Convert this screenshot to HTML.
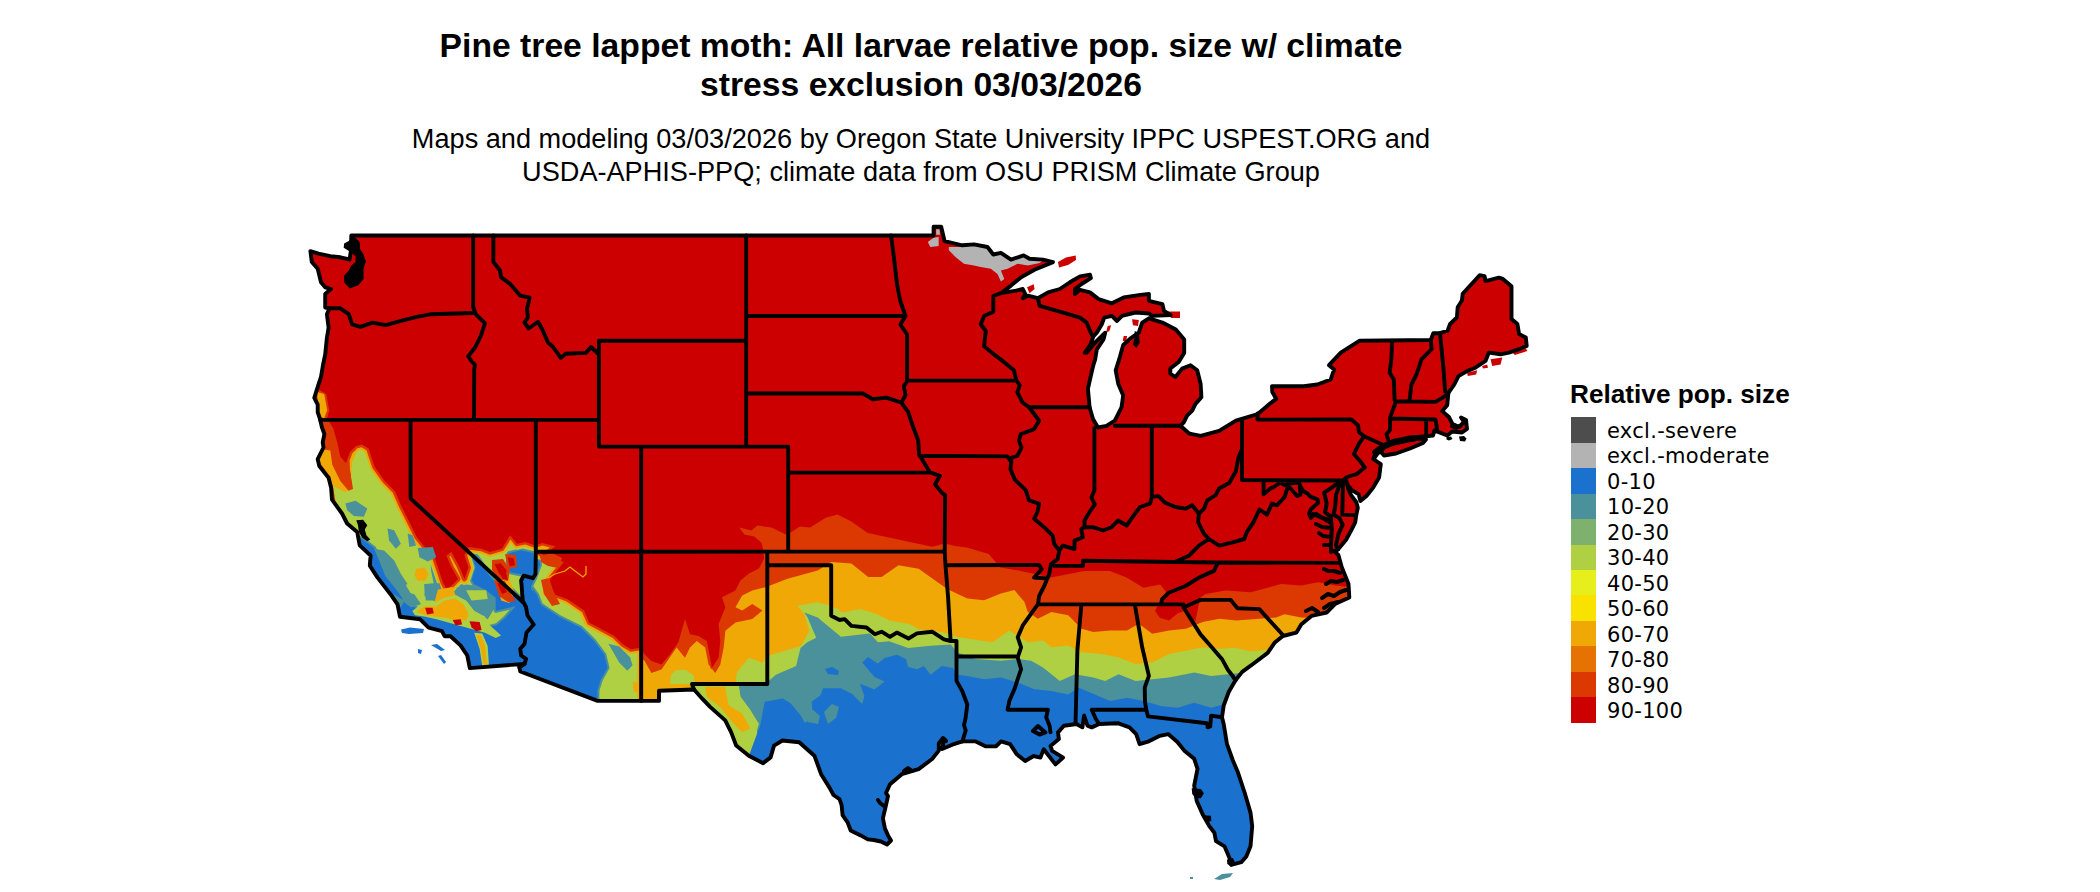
<!DOCTYPE html>
<html><head><meta charset="utf-8"><title>Pine tree lappet moth</title>
<style>
html,body{margin:0;padding:0;background:#fff;}
body{width:2100px;height:892px;position:relative;overflow:hidden;font-family:"Liberation Sans",sans-serif;color:#000;}
.t{position:absolute;white-space:nowrap;}
#title{left:0;width:1842px;text-align:center;top:26px;font-size:33.7px;font-weight:bold;line-height:38.8px;}
#sub{left:0;width:1842px;text-align:center;top:123px;font-size:27.15px;line-height:32.5px;}
#lt{left:1570px;top:380px;font-size:26.2px;font-weight:bold;line-height:28px;}
.sw{position:absolute;left:1571px;width:25px;height:25.6px;}
.ll{position:absolute;left:1607px;font-family:"DejaVu Sans",sans-serif;font-size:21px;line-height:25.5px;letter-spacing:0.3px;white-space:nowrap;}
svg{position:absolute;left:0;top:0;}
</style></head><body>
<div id="title" class="t">Pine tree lappet moth: All larvae relative pop. size w/ climate<br>stress exclusion 03/03/2026</div>
<div id="sub" class="t">Maps and modeling 03/03/2026 by Oregon State University IPPC USPEST.ORG and<br>USDA-APHIS-PPQ; climate data from OSU PRISM Climate Group</div>
<svg width="2100" height="892" viewBox="0 0 2100 892">
<defs><clipPath id="us"><path d="M351.3 235.5 L933.6 235.5 L933.6 226.8 L941.2 226.8 L944.6 241.1 L962.2 245.3 L974.0 244.4 L987.5 247.0 L993.3 254.5 L1000.9 252.8 L1011.0 259.6 L1023.6 255.4 L1029.5 258.7 L1043.0 259.6 L1053.0 262.1 L1034.5 269.7 L1021.1 277.2 L1011.0 285.6 L1000.9 293.2 L1016.0 290.7 L1022.8 289.0 L1025.3 294.0 L1022.8 298.2 L1027.8 295.7 L1037.9 298.2 L1048.0 292.4 L1059.8 289.0 L1069.9 282.3 L1080.0 276.4 L1090.0 274.7 L1090.9 278.1 L1081.6 284.0 L1074.9 289.0 L1074.9 294.0 L1080.0 289.8 L1090.0 292.4 L1098.5 299.1 L1111.9 303.3 L1123.7 297.4 L1140.5 294.9 L1148.9 294.0 L1148.9 300.8 L1162.4 304.1 L1164.0 310.9 L1170.8 315.1 L1152.3 315.9 L1148.9 313.5 L1135.5 312.5 L1122.0 315.9 L1117.0 321.0 L1111.9 315.9 L1104.3 317.6 L1101.8 324.3 L1096.8 332.7 L1093.6 336.1 L1090.4 344.5 L1084.8 352.9 L1087.0 352.5 L1093.2 344.5 L1105.2 332.7 L1103.5 339.5 L1096.8 349.5 L1095.1 359.6 L1093.4 365.0 L1092.1 370.3 L1087.9 388.8 L1089.6 407.3 L1093.0 419.0 L1098.0 427.5 L1106.4 425.8 L1114.8 420.7 L1121.5 407.3 L1123.2 395.5 L1118.2 383.7 L1115.7 370.3 L1119.9 356.8 L1123.2 345.0 L1131.0 338.0 L1138.8 332.7 L1142.2 322.6 L1148.9 318.3 L1162.4 322.6 L1175.8 329.4 L1184.2 339.5 L1184.2 352.9 L1178.7 361.9 L1170.3 368.6 L1170.3 373.6 L1175.4 377.0 L1182.1 368.6 L1190.5 365.2 L1197.2 370.3 L1200.6 383.7 L1201.4 397.2 L1195.5 403.9 L1192.2 410.6 L1187.1 415.7 L1183.8 422.4 L1180.4 425.8 L1188.8 433.3 L1192.2 434.2 L1200.6 435.9 L1219.1 430.8 L1235.9 420.7 L1257.8 414.0 L1269.5 403.9 L1276.3 398.9 L1272.3 392.0 L1272.0 386.2 L1303.8 386.2 L1317.3 384.5 L1330.7 379.5 L1334.1 369.4 L1329.0 365.2 L1340.8 352.6 L1359.3 340.8 L1430.8 340.0 L1433.3 333.2 L1440.0 333.2 L1447.6 330.7 L1450.1 324.0 L1456.9 317.3 L1457.7 307.2 L1461.9 300.5 L1462.7 293.7 L1479.6 275.2 L1484.6 276.1 L1485.5 281.1 L1498.9 277.7 L1502.3 278.6 L1511.5 286.2 L1511.5 319.0 L1517.4 324.0 L1519.1 334.1 L1525.8 337.5 L1526.7 345.9 L1519.1 349.2 L1509.0 352.6 L1500.6 354.3 L1488.8 352.6 L1485.5 361.0 L1475.4 367.7 L1467.0 371.1 L1458.5 376.1 L1454.3 384.5 L1448.4 392.9 L1447.2 405.2 L1442.2 411.1 L1448.9 417.0 L1452.3 423.7 L1459.0 427.0 L1464.0 422.0 L1461.0 417.5 L1466.0 420.0 L1467.0 429.0 L1462.0 432.5 L1452.3 431.5 L1447.2 435.5 L1438.8 432.1 L1434.6 430.5 L1432.9 435.5 L1426.2 436.3 L1410.0 437.5 L1393.0 441.0 L1383.5 445.0 L1376.0 452.0 L1373.2 459.0 L1380.8 464.1 L1379.1 477.6 L1373.2 487.6 L1366.5 496.0 L1360.4 501.0 L1358.7 494.4 L1352.0 490.2 L1347.7 485.1 L1346.4 481.0 L1346.8 483.0 L1348.2 488.5 L1351.1 495.2 L1356.2 502.0 L1357.8 507.8 L1356.2 515.4 L1355.3 522.1 L1351.1 530.6 L1346.1 539.8 L1338.0 549.5 L1334.0 551.0 L1338.4 555.0 L1341.7 567.1 L1348.5 583.9 L1349.3 597.4 L1335.0 604.1 L1326.6 612.5 L1311.5 615.9 L1301.4 624.3 L1296.3 632.7 L1282.9 636.0 L1274.5 642.8 L1267.7 652.9 L1254.3 663.0 L1242.2 671.9 L1235.5 680.3 L1228.7 692.0 L1223.7 705.5 L1222.0 717.3 L1223.7 724.0 L1227.0 744.2 L1232.9 760.5 L1237.9 772.3 L1244.6 792.5 L1250.5 812.6 L1252.2 826.1 L1250.5 846.3 L1246.3 856.4 L1241.3 862.2 L1231.2 864.8 L1229.5 858.0 L1224.5 846.3 L1216.0 841.2 L1214.4 832.8 L1209.3 826.1 L1202.6 814.3 L1196.7 800.9 L1194.2 785.7 L1197.5 768.9 L1194.2 758.8 L1184.1 750.4 L1177.4 742.0 L1168.2 734.1 L1159.8 735.8 L1148.0 741.7 L1139.6 744.2 L1136.2 734.1 L1129.5 727.4 L1117.7 723.2 L1099.2 724.0 L1091.7 727.4 L1087.5 725.7 L1084.1 715.6 L1082.4 727.4 L1076.5 724.0 L1063.9 725.7 L1058.0 732.4 L1058.9 739.1 L1050.5 745.9 L1052.1 750.9 L1063.1 757.6 L1055.5 764.4 L1043.7 749.2 L1040.4 757.6 L1033.6 756.0 L1025.2 761.0 L1016.8 754.3 L1010.1 744.2 L1001.0 741.4 L996.0 746.4 L985.9 746.4 L975.8 741.4 L962.4 741.4 L952.3 744.7 L942.2 749.0 L943.9 741.4 L938.8 743.1 L938.8 750.6 L932.1 759.0 L918.6 769.1 L910.2 771.7 L901.8 774.2 L890.0 784.3 L886.0 793.0 L888.0 796.1 L886.0 805.1 L882.9 818.3 L884.9 828.3 L888.0 835.4 L891.0 840.5 L887.0 844.5 L880.9 841.5 L873.8 840.0 L867.8 839.4 L860.7 835.4 L850.6 830.4 L847.6 822.3 L842.6 815.2 L841.6 805.1 L839.5 799.1 L833.5 795.0 L829.5 787.6 L821.1 774.2 L814.4 755.7 L799.2 742.2 L782.4 740.5 L774.0 745.6 L770.6 757.4 L763.1 763.2 L748.8 755.7 L736.2 745.6 L731.1 732.1 L725.2 720.4 L710.1 706.9 L702.7 699.2 L694.0 689.5 L659.0 690.8 L659.0 700.9 L597.6 700.9 L520.3 671.5 L519.4 667.3 L524.5 663.9 L469.8 668.1 L467.3 655.5 L460.5 645.4 L450.5 636.2 L444.6 636.2 L442.0 631.1 L428.6 627.7 L420.2 619.3 L400.0 616.8 L397.5 604.3 L391.7 595.9 L377.4 577.4 L369.8 565.6 L370.6 555.5 L359.7 545.4 L357.2 532.0 L347.1 523.5 L342.0 513.5 L332.0 499.6 L331.1 487.8 L328.6 477.7 L319.3 466.0 L317.7 459.2 L323.5 447.5 L322.7 442.4 L324.4 434.0 L321.9 427.3 L320.2 419.7 L317.7 412.1 L317.7 404.6 L314.3 397.8 L317.7 386.9 L321.0 376.8 L323.0 365.0 L325.2 354.5 L326.9 337.7 L328.6 327.6 L326.9 314.2 L329.4 308.3 L325.2 307.5 L325.2 294.0 L331.0 289.0 L325.2 287.3 L321.0 282.2 L317.7 268.8 L311.8 262.0 L310.4 251.1 L318.5 253.6 L330.3 256.2 L340.4 257.3 L349.6 259.5 L351.0 250.0ZM1384.0 447.5 L1394.0 443.5 L1408.0 440.5 L1420.0 438.5 L1426.0 439.5 L1423.0 443.0 L1410.0 448.5 L1396.0 453.5 L1384.0 455.5 L1381.0 452.0Z"/></clipPath></defs>
<g clip-path="url(#us)">
<rect x="290" y="200" width="1260" height="692" fill="#CC0000"/>
<path d="M290.0 390.0 L290.0 900.0 L1420.0 900.0 L1420.0 587.0 L1352.0 587.3 L1335.0 585.6 L1318.2 582.2 L1301.4 585.6 L1281.2 583.9 L1250.9 592.3 L1225.7 590.6 L1205.5 594.0 L1200.0 598.0 L1195.5 621.0 L1191.5 617.5 L1185.9 610.3 L1177.5 613.6 L1169.1 620.4 L1160.0 618.0 L1155.0 611.0 L1159.0 603.0 L1166.0 592.0 L1160.2 584.4 L1143.4 587.7 L1126.6 577.6 L1109.8 570.9 L1084.5 570.9 L1050.9 577.6 L1020.6 570.9 L1000.5 567.5 L988.7 554.1 L966.8 547.4 L955.0 546.0 L944.7 543.5 L932.1 546.8 L867.7 532.9 L850.9 521.2 L837.4 514.5 L825.7 517.8 L810.0 527.5 L799.8 526.5 L790.7 532.6 L785.7 534.6 L771.5 527.5 L757.4 525.5 L751.4 530.5 L739.3 527.5 L744.3 534.6 L754.4 536.6 L761.5 542.7 L763.5 551.0 L764.0 558.5 L759.0 568.6 L748.9 573.6 L740.5 580.4 L735.4 590.5 L722.0 597.2 L725.4 607.3 L718.6 624.1 L720.3 640.9 L718.6 657.7 L711.9 667.8 L706.9 640.9 L698.4 635.9 L690.0 634.2 L685.0 619.0 L678.3 642.6 L669.9 654.4 L661.5 664.5 L651.4 661.1 L644.6 654.4 L641.3 647.6 L631.2 649.3 L622.8 644.3 L614.4 635.9 L589.1 622.4 L584.1 610.6 L567.3 598.9 L547.1 592.1 L550.5 578.7 L563.9 561.9 L540.0 553.5 L548.0 552.0 L555.6 546.2 L542.2 542.9 L535.5 545.4 L525.4 542.0 L517.0 543.7 L510.2 535.3 L501.8 548.8 L490.0 552.1 L481.6 548.8 L468.2 547.1 L464.5 555.5 L468.5 567.3 L464.5 579.0 L459.0 566.0 L451.4 552.1 L446.3 555.5 L451.4 567.3 L458.1 579.0 L447.0 590.0 L443.0 582.4 L434.5 557.2 L425.1 547.4 L417.0 537.4 L400.9 505.1 L394.8 491.0 L384.7 480.9 L374.6 466.7 L368.6 448.6 L362.0 444.5 L356.0 446.0 L350.0 452.0 L346.0 463.0 L340.3 456.7 L337.3 442.5 L333.3 428.4 L327.2 418.3 L329.3 410.3 L326.2 394.1 L319.2 390.0Z" fill="#DC3902" fill-rule="evenodd"/>
<path d="M327.2 410.3 L324.2 394.1 L317.1 392.1 L319.2 416.3 L324.2 418.3ZM318.2 448.6 L318.2 460.7 L324.2 468.8 L332.3 484.9 L340.3 499.0 L345.9 500.0 L300.0 500.0 L300.0 392.5 L292.5 392.5 L292.5 717.5 L639.5 717.5 L639.5 650.4 L630.6 651.7 L621.5 646.4 L612.9 638.0 L587.5 624.3 L582.1 612.2 L566.2 601.2 L545.3 593.8 L544.6 591.7 L548.3 577.6 L559.8 563.0 L539.0 555.8 L537.8 554.7 L537.5 553.2 L538.8 551.3 L547.0 549.7 L549.9 547.4 L542.4 545.5 L535.2 547.9 L525.2 544.6 L516.5 546.2 L515.2 545.5 L510.5 539.6 L503.3 550.8 L490.7 554.5 L489.3 554.5 L481.0 551.2 L469.7 549.8 L467.2 555.6 L471.0 567.7 L466.8 580.0 L464.7 581.5 L463.3 581.2 L462.3 580.2 L456.7 567.1 L450.5 555.7 L449.4 556.4 L453.6 566.2 L460.3 577.8 L460.6 579.2 L459.9 580.8 L448.8 591.8 L447.5 592.5 L446.0 592.3 L444.9 591.4 L440.7 583.4 L432.3 558.5 L423.2 549.0 L414.9 538.8 L398.7 506.2 L392.7 492.4 L382.8 482.5 L372.4 467.9 L366.5 450.2 L361.6 447.2 L357.3 448.3 L352.2 453.4 L349.6 460.5 L350.0 470.0 L356.0 500.0 L351.3 500.0 L350.4 493.0 L340.3 480.9 L332.3 464.7 L330.3 450.6ZM1418.5 618.0 L1320.0 618.0 L1301.4 617.5 L1284.5 614.2 L1276.1 617.5 L1236.4 620.4 L1219.5 618.7 L1202.7 622.0 L1185.9 628.8 L1169.1 630.5 L1152.3 633.8 L1138.8 623.7 L1127.0 630.5 L1110.2 630.5 L1093.4 632.1 L1081.6 628.8 L1068.2 615.3 L1051.4 612.0 L1037.9 618.7 L1027.8 612.0 L1024.5 601.9 L1014.4 590.1 L1000.9 593.5 L984.1 600.2 L967.3 598.5 L947.2 588.9 L918.6 568.7 L898.5 565.3 L881.6 577.1 L868.2 577.1 L851.4 563.6 L831.2 562.0 L817.7 570.4 L787.5 578.8 L765.6 587.2 L752.3 590.5 L742.2 595.5 L735.5 607.3 L742.2 610.6 L752.3 603.9 L762.4 610.6 L752.3 619.0 L735.5 622.4 L725.4 630.8 L723.7 647.6 L720.3 664.5 L715.3 672.9 L712.3 669.2 L710.7 668.7 L710.1 666.5 L708.5 664.5 L705.2 647.6 L696.8 640.9 L690.0 647.6 L685.0 657.7 L676.6 647.6 L661.5 669.5 L651.4 672.9 L644.6 661.1 L641.3 657.7 L641.3 898.5 L1418.5 898.5Z" fill="#EFA806" fill-rule="evenodd"/>
<path d="M542.5 547.7 L538.9 549.0 L544.0 548.1ZM359.0 532.8 L355.0 531.0 L300.0 531.0 L297.8 531.7 L296.2 533.8 L296.0 715.4 L601.0 715.4 L601.0 701.0 L637.4 701.0 L637.4 652.9 L630.1 653.8 L620.4 648.3 L611.7 639.7 L586.1 625.9 L584.9 624.2 L580.4 613.6 L565.2 603.1 L545.6 596.5 L543.7 595.2 L542.6 593.2 L542.6 591.4 L546.2 577.1 L556.4 564.0 L537.0 557.0 L535.7 555.2 L535.4 553.0 L536.2 550.9 L537.9 549.4 L534.5 549.9 L525.1 546.8 L516.1 548.2 L513.7 546.9 L510.7 543.2 L504.2 552.7 L490.8 556.6 L488.7 556.5 L480.5 553.3 L471.0 552.1 L469.4 555.7 L473.1 567.5 L468.2 581.7 L467.0 582.9 L464.9 583.6 L463.1 583.4 L461.3 582.3 L449.1 594.1 L446.5 594.6 L444.1 593.5 L438.8 584.2 L430.5 559.6 L421.5 550.3 L413.1 539.9 L396.8 507.1 L390.9 493.6 L381.2 483.9 L370.9 469.4 L364.8 451.6 L361.2 449.4 L358.4 450.2 L356.1 452.4 L352.0 463.0 L351.0 476.0 L353.0 489.0 L345.0 492.0 L333.0 486.0 L336.0 505.0 L346.0 521.0ZM686.0 670.0 L676.0 670.0 L671.0 675.0 L670.0 684.0 L694.5 684.0 L694.0 676.0ZM1420.0 648.0 L1290.0 648.0 L1250.9 651.2 L1234.1 647.8 L1219.5 649.0 L1202.7 647.3 L1169.1 654.0 L1152.3 662.4 L1135.5 664.1 L1118.6 657.4 L1101.8 654.0 L1081.6 652.3 L1068.2 645.6 L1051.4 647.3 L1043.0 640.5 L1027.8 642.2 L1009.3 630.5 L992.5 642.2 L958.9 637.2 L947.9 633.8 L933.6 630.5 L918.6 629.2 L910.2 624.2 L890.0 620.8 L876.6 614.1 L859.8 609.0 L843.0 612.4 L831.2 605.7 L817.7 602.3 L797.5 605.7 L804.3 614.1 L809.3 630.9 L800.9 646.0 L767.3 656.1 L762.4 662.8 L748.9 657.7 L737.0 672.0 L735.0 685.0 L694.0 686.0 L694.0 900.0 L1420.0 900.0Z" fill="#B0D043" fill-rule="evenodd"/>
<path d="M424.4 584.2 L425.8 600.4 L433.8 600.4 L440.6 603.1 L444.6 597.7 L455.4 595.0 L466.1 600.4 L474.2 611.1 L487.7 619.2 L493.7 609.6 L493.9 612.1 L495.8 613.1 L509.6 609.7 L503.6 616.6 L496.0 623.2 L485.1 625.9 L460.6 617.1 L447.6 613.1 L434.4 610.1 L422.5 609.0 L413.4 604.5 L399.7 582.9 L390.6 570.8 L382.7 558.9 L375.6 546.8 L366.0 539.3 L355.2 533.0 L300.0 533.0 L298.6 533.6 L298.0 535.0 L298.0 714.0 L599.0 714.0 L599.5 690.4 L602.7 680.4 L609.6 668.1 L606.2 653.7 L595.6 639.5 L582.0 625.9 L560.0 615.1 L542.6 603.4 L538.8 593.7 L533.3 586.3 L536.9 578.7 L542.0 565.0 L541.5 560.3 L537.1 558.8 L534.7 556.3 L534.0 554.0 L534.4 551.3 L522.9 548.6 L517.6 549.7 L515.4 549.5 L508.2 551.3 L506.8 552.6 L505.7 563.5 L509.0 573.4 L510.1 574.3 L520.8 576.4 L519.0 579.8 L521.0 590.0 L520.1 594.9 L510.1 585.1 L496.8 581.2 L489.3 572.3 L481.2 558.8 L477.5 554.3 L471.9 553.6 L470.9 555.8 L474.5 567.6 L470.0 581.3 L472.5 585.3 L467.2 584.4 L463.8 585.0 L461.4 584.1 L450.3 595.0 L447.6 596.0 L444.1 595.3 L442.0 593.3 L437.5 584.8 L430.6 564.3 L431.0 570.0 L433.7 583.5ZM757.0 900.0 L1420.0 900.0 L1420.0 672.0 L1250.0 672.0 L1211.1 675.9 L1194.3 672.5 L1169.1 677.5 L1135.5 680.9 L1118.6 674.2 L1105.2 680.9 L1093.4 677.5 L1074.9 674.2 L1059.8 680.9 L1043.0 667.5 L1031.2 660.7 L1017.7 659.0 L1000.9 660.7 L975.7 659.0 L957.5 652.4 L950.8 644.6 L930.6 645.7 L908.2 647.9 L889.1 641.2 L877.9 642.3 L870.0 633.4 L840.9 636.7 L817.7 617.5 L804.3 612.4 L807.6 617.5 L816.2 637.8 L807.3 642.3 L800.5 647.9 L796.1 665.9 L775.9 674.8 L768.0 681.6 L767.0 686.0 L738.7 686.0 L740.4 696.8 L750.5 710.3 L757.0 724.0Z" fill="#4A919B" fill-rule="evenodd"/>
<path d="M533.6 576.3 L533.0 578.0 L524.0 575.0 L521.0 580.0 L523.0 590.0 L521.1 600.4 L520.0 597.7 L509.2 586.9 L495.7 582.9 L487.7 573.5 L479.6 560.0 L475.5 555.1 L472.5 554.7 L472.0 555.8 L475.5 567.6 L471.6 580.0 L474.2 584.2 L485.0 589.6 L495.7 597.7 L495.7 611.1 L515.9 606.1 L505.0 618.0 L497.0 625.0 L485.0 628.0 L460.0 619.0 L447.0 615.0 L434.0 612.0 L422.0 611.0 L412.0 606.0 L398.0 584.0 L389.0 572.0 L381.0 560.0 L374.0 548.0 L365.0 541.0 L355.0 535.0 L300.0 535.0 L300.0 713.0 L597.0 713.0 L597.5 690.0 L600.9 679.6 L607.6 667.8 L604.3 654.4 L594.2 640.9 L580.7 627.5 L559.0 616.8 L541.0 604.7 L537.0 594.6 L531.0 586.5 L535.0 578.0 L540.0 565.0 L539.6 560.7 L536.0 559.2 L536.0 560.0 L533.5 556.1 L533.0 553.0 L520.8 550.2 L508.7 553.2 L507.7 563.3 L510.7 572.4ZM533.0 590.0 L532.3 591.8 L531.0 586.5ZM536.0 570.0 L534.2 574.8 L536.0 560.0ZM521.6 601.8 L526.3 606.3 L526.0 607.0ZM748.8 900.0 L1420.0 900.0 L1420.0 704.0 L1240.0 704.0 L1222.9 704.5 L1211.1 707.8 L1194.3 702.8 L1177.5 707.8 L1160.7 706.1 L1143.9 701.1 L1127.0 697.7 L1110.2 701.1 L1078.3 687.6 L1068.2 694.4 L1051.4 691.0 L1034.5 689.3 L1017.7 682.6 L1000.9 677.5 L984.1 679.2 L967.3 675.9 L957.5 674.8 L953.0 668.1 L941.8 665.9 L930.6 674.8 L923.9 665.9 L917.1 669.2 L908.2 667.0 L905.9 659.1 L896.9 654.7 L884.6 658.0 L877.9 663.6 L867.8 656.9 L862.2 662.5 L874.5 677.1 L884.6 681.6 L874.5 689.4 L859.9 683.8 L864.4 696.1 L862.2 704.0 L852.1 693.9 L840.9 688.3 L823.0 688.3 L820.7 695.0 L811.7 701.7 L812.9 717.4 L805.0 723.0 L800.5 715.2 L790.4 702.9 L782.6 698.4 L764.7 701.7 L760.2 725.3 L748.8 756.0Z" fill="#1A72CE" fill-rule="evenodd"/>
<path d="M825.0 669.0 L832.0 667.0 L839.0 671.0 L838.0 675.0 L828.0 674.0Z" fill="#1A72CE" fill-rule="evenodd"/>
<path d="M803.0 712.0 L812.0 709.0 L820.0 716.0 L818.0 724.0 L808.0 722.0Z" fill="#4A919B" fill-rule="evenodd"/>
<path d="M824.0 712.0 L832.0 704.0 L839.0 707.0 L836.0 718.0 L828.0 724.0Z" fill="#4A919B" fill-rule="evenodd"/>
<path d="M345.4 503.4 L355.5 500.8 L367.3 508.4 L363.9 516.8 L353.8 516.0 L347.1 510.1Z" fill="#4A919B" fill-rule="evenodd"/>
<path d="M374.0 548.8 L384.1 550.5 L394.2 560.5 L400.9 574.0 L407.6 584.1 L400.9 587.5 L390.8 575.7 L380.7 563.9Z" fill="#4A919B" fill-rule="evenodd"/>
<path d="M417.7 547.9 L432.9 547.1 L436.2 557.2 L427.8 561.4 L419.4 557.2Z" fill="#4A919B" fill-rule="evenodd"/>
<path d="M424.5 584.1 L439.6 583.3 L443.0 594.2 L434.6 600.9 L424.5 595.9Z" fill="#4A919B" fill-rule="evenodd"/>
<path d="M400.9 590.8 L414.4 594.2 L421.1 604.3 L411.0 607.6 L402.6 600.9Z" fill="#4A919B" fill-rule="evenodd"/>
<path d="M456.4 587.5 L469.9 587.5 L471.6 600.9 L461.5 604.3Z" fill="#4A919B" fill-rule="evenodd"/>
<path d="M380.0 562.7 L388.1 560.0 L398.8 570.8 L406.9 586.9 L415.0 600.4 L406.9 604.4 L396.2 589.6 L385.4 576.2Z" fill="#4A919B" fill-rule="evenodd"/>
<path d="M387.5 528.6 L394.2 530.3 L400.9 543.7 L395.9 548.8 L389.1 540.4Z" fill="#4A919B" fill-rule="evenodd"/>
<path d="M407.6 533.6 L412.7 535.3 L416.0 545.4 L409.3 547.1Z" fill="#4A919B" fill-rule="evenodd"/>
<path d="M394.2 594.2 L404.3 600.9 L400.9 607.6 L392.5 602.6Z" fill="#4A919B" fill-rule="evenodd"/>
<path d="M416.0 569.0 L424.5 567.3 L428.7 574.0 L425.3 580.7 L417.7 580.7 L414.4 574.8Z" fill="#EFA806" fill-rule="evenodd"/>
<path d="M444.6 607.6 L461.5 600.9 L468.2 607.6 L461.5 617.7 L448.0 616.0Z" fill="#EFA806" fill-rule="evenodd"/>
<path d="M466.1 590.3 L486.3 590.3 L487.7 599.0 L471.5 600.4Z" fill="#B0D043" fill-rule="evenodd"/>
<path d="M437.9 589.6 L452.7 586.9 L455.4 595.0 L444.6 600.4 L439.2 605.8 L433.8 604.4Z" fill="#EFA806" fill-rule="evenodd"/>
<path d="M494.4 564.0 L503.8 565.4 L509.2 578.8 L514.6 592.3 L509.2 603.1 L501.1 600.4 L498.4 586.9 L494.4 573.5Z" fill="#EFA806" fill-rule="evenodd"/>
<path d="M492.0 560.0 L503.0 559.0 L510.0 570.0 L508.0 581.0 L498.0 579.0 L492.0 570.0Z" fill="#DC3902" fill-rule="evenodd"/>
<path d="M505.0 554.0 L516.0 555.0 L517.0 567.0 L508.0 569.0Z" fill="#DC3902" fill-rule="evenodd"/>
<path d="M494.0 580.0 L505.0 581.0 L511.0 594.0 L516.0 601.0 L508.0 602.0 L499.0 596.0Z" fill="#DC3902" fill-rule="evenodd"/>
<path d="M540.0 556.0 L552.0 553.0 L562.0 558.0 L558.0 568.0 L548.0 566.0 L541.0 562.0Z" fill="#DC3902" fill-rule="evenodd"/>
<path d="M541.0 580.0 L549.0 578.0 L553.0 590.0 L560.0 604.0 L552.0 606.0 L544.0 594.0Z" fill="#DC3902" fill-rule="evenodd"/>
<path d="M494.6 564.3 L500.6 563.3 L506.7 570.4 L504.7 577.4 L499.6 574.4Z" fill="#CC0000" fill-rule="evenodd"/>
<path d="M507.7 557.2 L513.8 558.3 L514.8 565.3 L509.7 566.3Z" fill="#CC0000" fill-rule="evenodd"/>
<path d="M497.0 583.0 L503.0 584.0 L507.0 592.0 L502.0 594.0Z" fill="#CC0000" fill-rule="evenodd"/>
<path d="M412.3 611.1 L420.4 604.4 L436.5 601.7 L444.6 597.7 L455.4 595.0 L466.1 600.4 L474.2 611.1 L485.0 616.5 L487.7 623.3 L501.1 635.4 L495.7 638.1 L485.0 632.7 L436.5 619.2 L424.4 616.5 L415.0 615.2Z" fill="#B0D043" fill-rule="evenodd"/>
<path d="M416.3 611.8 L424.4 606.4 L436.5 606.4 L444.6 600.4 L455.4 598.4 L463.4 604.4 L468.8 613.8 L466.1 620.6 L455.4 620.6 L447.3 617.9 L425.8 615.2Z" fill="#EFA806" fill-rule="evenodd"/>
<path d="M474.2 632.7 L482.3 633.4 L487.7 646.1 L489.0 666.3 L482.3 666.3 L479.6 648.8Z" fill="#B0D043" fill-rule="evenodd"/>
<path d="M476.2 634.7 L480.9 635.4 L485.0 646.1 L487.0 665.0 L483.6 665.0 L480.9 648.8Z" fill="#EFA806" fill-rule="evenodd"/>
<path d="M608.4 643.8 L619.2 646.5 L630.0 657.3 L632.6 665.3 L627.3 670.7 L619.2 662.6Z" fill="#4A919B" fill-rule="evenodd"/>
<path d="M632.6 681.5 L638.0 683.0 L638.5 692.0 L634.0 692.2Z" fill="#EFA806" fill-rule="evenodd"/>
<path d="M700.0 685.0 L738.7 685.0 L740.4 696.8 L750.5 710.3 L758.9 723.7 L755.5 735.5 L742.0 737.2 L733.6 732.1 L725.2 720.4 L710.1 706.9 L700.0 696.8Z" fill="#B0D043" fill-rule="evenodd"/>
<path d="M705.0 686.7 L725.2 686.7 L728.6 705.2 L742.0 713.6 L750.5 728.8 L742.0 732.1 L733.6 723.7 L720.2 706.9 L706.7 696.8Z" fill="#EFA806" fill-rule="evenodd"/>
<path d="M425.1 607.8 L432.5 607.8 L433.8 613.2 L427.1 614.5Z" fill="#CC0000" fill-rule="evenodd"/>
<path d="M452.7 619.9 L460.8 619.2 L462.1 624.6 L455.4 625.3Z" fill="#CC0000" fill-rule="evenodd"/>
<path d="M469.5 621.2 L479.6 621.9 L481.6 630.0 L476.2 631.3 L471.5 627.3Z" fill="#CC0000" fill-rule="evenodd"/>
<path d="M498.4 568.1 L505.2 569.4 L507.9 580.2 L502.5 578.8Z" fill="#CC0000" fill-rule="evenodd"/>
<path d="M548.0 578.0 L555.0 574.0 L565.0 571.0 L570.0 567.0 L575.0 571.0 L583.0 577.0 L586.0 574.0 L586.0 566.0" fill="none" stroke="#EFA806" stroke-width="1.3"/>
<path d="M948.8 247.0 L962.2 247.0 L974.0 245.3 L987.5 247.8 L993.3 255.4 L1000.9 253.7 L1011.0 260.4 L1023.6 256.2 L1029.5 259.6 L1043.0 260.4 L1039.6 262.9 L1027.8 265.5 L1017.7 263.8 L1007.6 268.8 L1000.9 270.5 L1004.3 278.9 L1000.9 281.4 L997.5 273.9 L990.8 268.8 L980.7 267.1 L974.0 265.5 L963.9 263.8 L955.5 257.0 L948.8 250.3Z" fill="#B3B3B3" fill-rule="evenodd"/>
<path d="M927.8 241.9 L933.6 237.7 L938.7 236.9 L938.7 246.1 L930.3 247.0Z" fill="#B3B3B3" fill-rule="evenodd"/>
<path d="M936.2 229.3 L939.5 229.3 L940.0 234.8 L936.2 234.8Z" fill="#B3B3B3" fill-rule="evenodd"/>
</g>
<path d="M1058.0 262.0 L1066.0 257.5 L1075.7 255.5 L1076.0 260.0 L1068.0 265.0 L1059.0 267.5Z" fill="#CC0000"/>
<path d="M1132.1 319.3 L1138.8 320.1 L1138.0 326.0 L1132.9 325.2Z" fill="#CC0000"/>
<path d="M1123.7 336.1 L1127.1 336.1 L1126.2 341.1 L1122.8 341.1Z" fill="#CC0000"/>
<path d="M1107.7 326.0 L1111.1 325.2 L1109.4 331.0 L1106.0 332.7Z" fill="#CC0000"/>
<path d="M1027.0 287.3 L1033.7 284.3 L1034.6 289.0 L1029.5 293.2Z" fill="#CC0000"/>
<path d="M1167.0 311.5 L1180.0 311.5 L1180.0 318.0 L1171.0 318.0Z" fill="#CC0000"/>
<path d="M1490.5 359.3 L1502.3 357.6 L1500.6 364.4 L1492.2 366.0Z" fill="#CC0000"/>
<path d="M1467.0 372.8 L1477.1 370.3 L1476.2 374.5 L1467.8 376.1Z" fill="#CC0000"/>
<path d="M1512.4 352.6 L1525.8 348.4 L1527.5 350.9 L1514.9 355.1Z" fill="#CC0000"/>
<path d="M1482.1 366.0 L1487.1 364.4 L1488.0 367.7 L1482.9 368.6Z" fill="#CC0000"/>
<path d="M401.0 629.5 L410.0 627.5 L424.0 629.0 L423.0 633.0 L409.0 634.0 L402.0 633.0Z" fill="#1A72CE"/>
<path d="M431.0 645.0 L437.0 644.0 L445.0 650.0 L441.0 651.0Z" fill="#1A72CE"/>
<path d="M418.0 649.0 L422.0 650.0 L421.0 654.0 L418.0 653.0Z" fill="#1A72CE"/>
<path d="M438.0 656.0 L441.0 655.0 L446.0 662.0 L444.0 664.0Z" fill="#1A72CE"/>
<path d="M1214.0 879.0 L1222.0 874.0 L1233.0 873.0 L1230.0 877.0 L1220.0 880.0Z" fill="#4A919B"/>
<path d="M1190.0 877.0 L1193.0 877.0 L1193.0 879.0 L1190.0 879.0Z" fill="#4A919B"/>
<g fill="none" stroke="#000" stroke-width="3.9" stroke-linejoin="round" stroke-linecap="round">
<path d="M473.2 235.5 L473.2 307.0M329.4 308.3 L340.4 308.3 L348.8 314.2 L352.1 324.3 L360.5 326.8 L372.3 322.6 L385.8 325.1 L400.9 320.9 L417.7 316.7 L431.2 314.2 L473.2 313.0M473.2 307.0 L475.7 314.2 L485.0 323.4 L480.8 336.0 L474.9 347.8 L468.2 356.2 L471.5 361.3 L474.9 364.6 L474.2 370.0 L474.0 419.9M493.4 235.5 L493.4 262.0 L500.1 270.5 L501.0 277.2 L510.2 283.9 L520.3 295.7 L529.6 297.7 L527.0 309.1 L527.9 317.5 L524.5 322.6 L528.7 328.5 L538.0 321.7 L542.2 329.3 L548.1 342.8 L552.3 346.1 L557.3 352.9 L560.7 357.9 L565.7 353.7 L585.9 352.9 L591.0 347.0 L598.9 354.5M598.9 340.8 L598.9 446.6M598.9 340.8 L746.2 340.8M320.2 419.9 L598.9 419.9M410.6 419.9 L410.6 498.5 L522.8 602.0M535.8 419.9 L535.8 551.8 L535.5 574.0 L532.9 578.2 L523.7 575.7 L521.2 580.7 L522.8 600.9 L526.0 607.0 L527.5 615.5 L533.7 624.5 L526.5 632.5 L524.5 644.0 L520.3 648.8 L521.1 655.5 L526.1 658.9 L524.5 663.9 L519.4 667.3M535.8 551.8 L944.7 551.5M641.2 446.6 L641.2 700.9M598.9 446.6 L788.2 446.6M746.2 235.5 L746.2 446.6M788.2 446.6 L788.2 551.8M788.2 472.6 L930.0 472.4M746.2 316.0 L905.5 316.0M746.2 393.5 L862.7 393.4 L872.8 399.2 L886.2 397.6 L901.4 402.6M891.0 235.5 L893.0 250.0 L897.0 284.0 L900.0 300.0 L905.5 316.0 L900.4 324.5 L907.1 334.5 L907.1 381.6M907.1 380.6 L1016.4 380.4M907.1 381.6 L903.8 386.0 L905.5 395.0 L901.4 402.6M901.4 402.6 L908.1 411.9 L913.1 427.0 L918.2 440.4 L919.0 453.9 L924.9 464.0 L930.0 472.4 L940.0 475.8 L935.0 484.2 L941.7 492.6 L945.1 495.1 L944.7 551.5 L945.5 565.3 L948.1 597.3 L950.6 641.0M919.5 455.8 L1007.3 456.4 L1011.5 462.3M1000.9 293.2 L993.3 296.0 L993.3 311.7 L984.1 315.9 L980.7 324.3 L985.8 331.0 L984.1 346.2 L994.2 354.6 L1000.9 359.6 L1013.9 370.3 L1016.4 380.4 L1019.8 385.4 L1017.3 392.1 L1022.3 402.2 L1029.0 407.3 L1034.1 414.0 L1039.1 420.7 L1034.1 429.1 L1020.6 434.2 L1019.0 440.9 L1021.5 447.6 L1017.3 456.0 L1011.4 457.7 L1010.5 469.5 L1014.8 479.6 L1025.7 490.2 L1029.0 500.3 L1039.1 503.6 L1037.5 512.0 L1034.1 518.8 L1044.2 527.2 L1052.6 535.6 L1054.3 544.0 L1059.3 550.7 L1057.6 559.1 L1050.9 564.2 L1049.2 574.3 L1044.2 586.0 L1039.1 596.1 L1038.0 604.2 L1031.2 613.6 L1022.8 625.4 L1017.7 637.2 L1021.1 647.3 L1017.7 657.4 L1021.1 669.1 L1017.7 679.2 L1014.4 689.3 L1009.3 701.1 L1007.6 709.7 L1047.9 709.7 L1046.2 717.3 L1049.6 725.7 L1050.5 732.4M1029.0 407.3 L1089.6 407.3M1037.9 298.2 L1039.6 305.8 L1059.8 311.7 L1080.0 317.6 L1086.7 322.6 L1090.0 331.0 L1092.6 336.1M1094.4 428.0 L1094.4 490.5 L1091.4 497.6 L1094.8 504.4 L1089.6 512.0 L1084.5 520.5 L1084.5 527.2M1114.8 425.8 L1151.8 425.8 L1180.4 425.8M1151.8 425.8 L1151.8 497.0M1059.3 550.7 L1062.7 545.7 L1074.5 549.0 L1074.5 540.6 L1082.9 537.3 L1081.2 528.9 L1084.5 527.2 L1093.0 527.2 L1103.0 530.5 L1111.5 527.2 L1118.2 520.5 L1126.6 525.5 L1135.0 513.7 L1140.0 507.0 L1150.1 503.6 L1151.8 496.9 L1158.5 496.1 L1165.3 502.8 L1175.4 507.0 L1185.5 508.7 L1192.2 505.3 L1198.9 513.7 L1204.0 508.7 L1207.3 500.3 L1215.7 495.2 L1219.1 488.5 L1229.2 483.0 L1235.9 471.2 L1238.4 457.7 L1242.0 449.0M1242.0 420.5 L1242.0 480.1M1242.0 480.1 L1343.0 480.5M1263.6 480.1 L1263.6 494.4 L1270.4 488.5 L1275.4 486.0 L1280.5 482.6 L1284.7 485.1 L1288.9 483.5 L1299.0 482.6 L1300.6 486.8 L1303.2 491.0 L1307.4 493.5 L1310.7 496.9 L1317.5 499.4 L1318.3 502.8 L1310.7 509.5 L1309.1 513.7 L1310.7 517.9 L1315.8 513.7 L1322.5 517.9 L1329.2 522.1M1209.0 539.0 L1219.1 545.7 L1232.6 542.3 L1244.3 539.0 L1246.8 532.2 L1253.5 522.1 L1259.4 509.5 L1267.0 514.6 L1272.0 503.6 L1277.1 505.3 L1284.7 496.9 L1287.2 488.5 L1288.9 486.8 L1297.3 496.1 L1300.6 494.4 L1299.8 486.8M1198.9 513.7 L1198.1 522.1 L1204.0 533.9 L1209.0 539.0 L1198.9 545.7 L1188.8 555.8 L1175.4 561.7M1054.3 565.9 L1082.9 565.9 L1082.9 560.8 L1175.4 562.0 L1218.0 562.5 L1338.5 562.9M945.5 565.3 L1039.1 565.0 L1041.7 569.2 L1034.1 577.6 L1047.5 578.5M1218.0 562.5 L1214.0 570.9 L1198.9 577.6 L1185.5 586.0 L1168.6 592.8 L1161.9 599.5 L1161.1 604.5M1038.0 604.4 L1183.6 604.4M1081.4 604.4 L1077.4 650.0 L1075.5 724.0M1134.8 604.4 L1142.2 647.3 L1148.9 675.9 L1144.7 687.6 L1145.0 702.0 L1146.3 709.7M1099.2 724.0 L1095.9 719.0 L1091.7 709.7 L1146.3 709.7 L1148.0 716.4 L1206.9 723.2 L1207.7 727.4 L1210.2 726.5 L1211.1 715.6 L1222.0 717.3M1183.6 604.4 L1183.6 607.5 L1192.0 620.9 L1200.5 634.4 L1212.2 647.8 L1222.3 659.6 L1228.0 670.0 L1232.1 675.2 L1235.5 680.3M1183.6 607.5 L1200.5 599.9 L1230.7 599.9 L1237.5 608.3 L1259.3 609.1 L1282.9 635.0M956.5 656.3 L1017.0 656.5M767.3 565.3 L831.2 565.3 L831.2 615.8 L839.6 620.0 L844.6 619.1 L851.4 625.9 L866.5 627.5 L874.9 634.3 L881.6 631.7 L890.0 636.8 L896.8 632.6 L908.5 638.5 L917.0 633.4 L932.1 631.7 L943.9 639.3 L950.6 641.0 L956.5 641.0 L956.5 680.9 L962.2 691.0 L967.3 704.5 L965.6 717.9 L964.0 725.0 L965.7 730.5 L962.4 741.4M767.3 551.8 L767.3 684.0 L692.0 684.0 L694.0 689.5M1257.5 413.5 L1257.5 419.6 L1351.4 419.5 L1358.1 425.4 L1358.9 432.1 L1364.0 436.3 L1358.9 443.9 L1353.9 454.0 L1359.8 460.7 L1364.8 467.5 L1356.4 474.2 L1348.6 476.5 L1345.5 478.0 L1343.0 480.9 L1342.3 514.6 L1356.2 515.4M1364.0 436.3 L1383.5 445.0M1388.0 439.5 L1386.5 434.0 L1390.0 430.0 L1390.0 417.8 L1395.9 401.5 L1394.6 400.0 L1393.8 379.5 L1389.6 372.8 L1391.3 359.3 L1392.1 340.8M1390.0 418.5 L1435.5 419.5 L1437.1 428.8 L1434.6 430.5M1426.2 419.3 L1426.2 436.3M1395.9 401.2 L1435.5 401.9 L1443.9 396.8 L1448.0 393.0M1430.8 340.0 L1431.6 349.2 L1421.5 359.3 L1416.5 374.5 L1411.4 384.5 L1409.4 401.5M1440.0 333.2 L1443.4 367.7 L1445.1 391.3 L1448.4 393.0"/>
<path d="M351.3 235.5 L933.6 235.5 L933.6 226.8 L941.2 226.8 L944.6 241.1 L962.2 245.3 L974.0 244.4 L987.5 247.0 L993.3 254.5 L1000.9 252.8 L1011.0 259.6 L1023.6 255.4 L1029.5 258.7 L1043.0 259.6 L1053.0 262.1 L1034.5 269.7 L1021.1 277.2 L1011.0 285.6 L1000.9 293.2 L1016.0 290.7 L1022.8 289.0 L1025.3 294.0 L1022.8 298.2 L1027.8 295.7 L1037.9 298.2 L1048.0 292.4 L1059.8 289.0 L1069.9 282.3 L1080.0 276.4 L1090.0 274.7 L1090.9 278.1 L1081.6 284.0 L1074.9 289.0 L1074.9 294.0 L1080.0 289.8 L1090.0 292.4 L1098.5 299.1 L1111.9 303.3 L1123.7 297.4 L1140.5 294.9 L1148.9 294.0 L1148.9 300.8 L1162.4 304.1 L1164.0 310.9 L1170.8 315.1 L1152.3 315.9 L1148.9 313.5 L1135.5 312.5 L1122.0 315.9 L1117.0 321.0 L1111.9 315.9 L1104.3 317.6 L1101.8 324.3 L1096.8 332.7 L1093.6 336.1 L1090.4 344.5 L1084.8 352.9 L1087.0 352.5 L1093.2 344.5 L1105.2 332.7 L1103.5 339.5 L1096.8 349.5 L1095.1 359.6 L1093.4 365.0 L1092.1 370.3 L1087.9 388.8 L1089.6 407.3 L1093.0 419.0 L1098.0 427.5 L1106.4 425.8 L1114.8 420.7 L1121.5 407.3 L1123.2 395.5 L1118.2 383.7 L1115.7 370.3 L1119.9 356.8 L1123.2 345.0 L1131.0 338.0 L1138.8 332.7 L1142.2 322.6 L1148.9 318.3 L1162.4 322.6 L1175.8 329.4 L1184.2 339.5 L1184.2 352.9 L1178.7 361.9 L1170.3 368.6 L1170.3 373.6 L1175.4 377.0 L1182.1 368.6 L1190.5 365.2 L1197.2 370.3 L1200.6 383.7 L1201.4 397.2 L1195.5 403.9 L1192.2 410.6 L1187.1 415.7 L1183.8 422.4 L1180.4 425.8 L1188.8 433.3 L1192.2 434.2 L1200.6 435.9 L1219.1 430.8 L1235.9 420.7 L1257.8 414.0 L1269.5 403.9 L1276.3 398.9 L1272.3 392.0 L1272.0 386.2 L1303.8 386.2 L1317.3 384.5 L1330.7 379.5 L1334.1 369.4 L1329.0 365.2 L1340.8 352.6 L1359.3 340.8 L1430.8 340.0 L1433.3 333.2 L1440.0 333.2 L1447.6 330.7 L1450.1 324.0 L1456.9 317.3 L1457.7 307.2 L1461.9 300.5 L1462.7 293.7 L1479.6 275.2 L1484.6 276.1 L1485.5 281.1 L1498.9 277.7 L1502.3 278.6 L1511.5 286.2 L1511.5 319.0 L1517.4 324.0 L1519.1 334.1 L1525.8 337.5 L1526.7 345.9 L1519.1 349.2 L1509.0 352.6 L1500.6 354.3 L1488.8 352.6 L1485.5 361.0 L1475.4 367.7 L1467.0 371.1 L1458.5 376.1 L1454.3 384.5 L1448.4 392.9 L1447.2 405.2 L1442.2 411.1 L1448.9 417.0 L1452.3 423.7 L1459.0 427.0 L1464.0 422.0 L1461.0 417.5 L1466.0 420.0 L1467.0 429.0 L1462.0 432.5 L1452.3 431.5 L1447.2 435.5 L1438.8 432.1 L1434.6 430.5 L1432.9 435.5 L1426.2 436.3 L1410.0 437.5 L1393.0 441.0 L1383.5 445.0 L1376.0 452.0 L1373.2 459.0 L1380.8 464.1 L1379.1 477.6 L1373.2 487.6 L1366.5 496.0 L1360.4 501.0 L1358.7 494.4 L1352.0 490.2 L1347.7 485.1 L1346.4 481.0 L1346.8 483.0 L1348.2 488.5 L1351.1 495.2 L1356.2 502.0 L1357.8 507.8 L1356.2 515.4 L1355.3 522.1 L1351.1 530.6 L1346.1 539.8 L1338.0 549.5 L1334.0 551.0 L1338.4 555.0 L1341.7 567.1 L1348.5 583.9 L1349.3 597.4 L1335.0 604.1 L1326.6 612.5 L1311.5 615.9 L1301.4 624.3 L1296.3 632.7 L1282.9 636.0 L1274.5 642.8 L1267.7 652.9 L1254.3 663.0 L1242.2 671.9 L1235.5 680.3 L1228.7 692.0 L1223.7 705.5 L1222.0 717.3 L1223.7 724.0 L1227.0 744.2 L1232.9 760.5 L1237.9 772.3 L1244.6 792.5 L1250.5 812.6 L1252.2 826.1 L1250.5 846.3 L1246.3 856.4 L1241.3 862.2 L1231.2 864.8 L1229.5 858.0 L1224.5 846.3 L1216.0 841.2 L1214.4 832.8 L1209.3 826.1 L1202.6 814.3 L1196.7 800.9 L1194.2 785.7 L1197.5 768.9 L1194.2 758.8 L1184.1 750.4 L1177.4 742.0 L1168.2 734.1 L1159.8 735.8 L1148.0 741.7 L1139.6 744.2 L1136.2 734.1 L1129.5 727.4 L1117.7 723.2 L1099.2 724.0 L1091.7 727.4 L1087.5 725.7 L1084.1 715.6 L1082.4 727.4 L1076.5 724.0 L1063.9 725.7 L1058.0 732.4 L1058.9 739.1 L1050.5 745.9 L1052.1 750.9 L1063.1 757.6 L1055.5 764.4 L1043.7 749.2 L1040.4 757.6 L1033.6 756.0 L1025.2 761.0 L1016.8 754.3 L1010.1 744.2 L1001.0 741.4 L996.0 746.4 L985.9 746.4 L975.8 741.4 L962.4 741.4 L952.3 744.7 L942.2 749.0 L943.9 741.4 L938.8 743.1 L938.8 750.6 L932.1 759.0 L918.6 769.1 L910.2 771.7 L901.8 774.2 L890.0 784.3 L886.0 793.0 L888.0 796.1 L886.0 805.1 L882.9 818.3 L884.9 828.3 L888.0 835.4 L891.0 840.5 L887.0 844.5 L880.9 841.5 L873.8 840.0 L867.8 839.4 L860.7 835.4 L850.6 830.4 L847.6 822.3 L842.6 815.2 L841.6 805.1 L839.5 799.1 L833.5 795.0 L829.5 787.6 L821.1 774.2 L814.4 755.7 L799.2 742.2 L782.4 740.5 L774.0 745.6 L770.6 757.4 L763.1 763.2 L748.8 755.7 L736.2 745.6 L731.1 732.1 L725.2 720.4 L710.1 706.9 L702.7 699.2 L694.0 689.5 L659.0 690.8 L659.0 700.9 L597.6 700.9 L520.3 671.5 L519.4 667.3 L524.5 663.9 L469.8 668.1 L467.3 655.5 L460.5 645.4 L450.5 636.2 L444.6 636.2 L442.0 631.1 L428.6 627.7 L420.2 619.3 L400.0 616.8 L397.5 604.3 L391.7 595.9 L377.4 577.4 L369.8 565.6 L370.6 555.5 L359.7 545.4 L357.2 532.0 L347.1 523.5 L342.0 513.5 L332.0 499.6 L331.1 487.8 L328.6 477.7 L319.3 466.0 L317.7 459.2 L323.5 447.5 L322.7 442.4 L324.4 434.0 L321.9 427.3 L320.2 419.7 L317.7 412.1 L317.7 404.6 L314.3 397.8 L317.7 386.9 L321.0 376.8 L323.0 365.0 L325.2 354.5 L326.9 337.7 L328.6 327.6 L326.9 314.2 L329.4 308.3 L325.2 307.5 L325.2 294.0 L331.0 289.0 L325.2 287.3 L321.0 282.2 L317.7 268.8 L311.8 262.0 L310.4 251.1 L318.5 253.6 L330.3 256.2 L340.4 257.3 L349.6 259.5 L351.0 250.0ZM1384.0 447.5 L1394.0 443.5 L1408.0 440.5 L1420.0 438.5 L1426.0 439.5 L1423.0 443.0 L1410.0 448.5 L1396.0 453.5 L1384.0 455.5 L1381.0 452.0Z"/>
<path stroke-width="4" d="M1338.0 549.5 L1336.0 545.0 L1338.5 533.9 L1342.7 524.7 L1339.3 517.9 L1333.4 514.6 L1335.1 507.8 L1336.0 495.2 L1340.2 482.6 L1335.1 485.1 L1329.2 489.3 L1324.2 492.7 L1326.7 503.6 L1325.0 512.0 L1330.9 517.1 L1331.8 528.9 L1330.9 545.0 L1331.0 552.0M1329.0 520.0 L1320.0 517.0 L1313.0 514.0M1331.0 528.0 L1322.0 527.0 L1316.0 524.0M1331.0 537.0 L1323.0 536.0 L1319.0 533.0M1331.0 545.0 L1324.0 545.0M1340.0 573.0 L1334.0 571.0 L1328.0 571.0 L1324.0 569.0M1343.0 580.0 L1337.0 582.0 L1331.0 581.0 L1326.0 584.0M1346.0 590.0 L1340.0 592.0 L1334.0 596.0 L1328.0 594.0 L1322.0 598.0M1338.0 602.0 L1330.0 604.0 L1324.0 608.0M1318.0 612.0 L1312.0 608.0 L1306.0 611.0M1033.0 731.0 L1038.0 726.0 L1045.4 732.4 L1039.5 734.5 L1033.0 731.0M940.0 742.0 L943.0 738.0 L946.0 741.0M904.0 771.0 L908.0 768.0 L912.0 771.0M884.0 806.0 L880.0 803.0 L878.0 800.0M1374.0 452.0 L1379.0 448.0 L1383.0 446.0M1452.0 426.0 L1456.0 428.0 L1460.0 426.0"/>
</g>
<path fill="#000" d="M351.3 235.6 L355.5 237.7 L359.7 241.9 L360.2 249.4 L363.1 253.6 L365.9 261.2 L363.6 268.8 L363.6 278.9 L358.0 285.6 L349.6 288.6 L344.1 282.2 L344.1 275.5 L348.8 270.5 L351.3 265.4 L355.5 262.0 L355.5 256.2 L350.5 252.0 L343.7 247.8 L344.1 243.5 L348.8 241.0 L351.3 238.5ZM356.3 520.2 L363.1 519.8 L367.3 525.2 L364.8 529.4 L366.4 535.3 L370.3 539.5 L367.3 541.2 L362.2 537.8 L358.9 532.0 L358.0 525.2ZM1191.7 788.3 L1200.9 789.1 L1203.9 793.3 L1200.9 798.3 L1195.9 798.3 L1192.2 794.1ZM1203.4 815.2 L1211.0 815.7 L1211.3 821.0 L1206.8 822.4 L1203.9 819.4ZM1227.0 859.7 L1232.9 858.0 L1235.4 863.1 L1231.2 866.5 L1227.3 863.9ZM1134.6 331.0 L1138.8 332.7 L1139.7 342.8 L1136.3 347.9 L1132.9 344.5 L1134.6 337.8ZM1382.5 445.6 L1385.0 449.0 L1378.3 455.7 L1374.9 460.7 L1371.6 459.0 L1374.1 454.0 L1378.3 449.0ZM1446.5 437.0 L1451.0 436.5 L1452.5 439.0 L1449.0 440.5 L1446.5 439.5ZM1459.0 436.5 L1464.0 436.0 L1466.5 438.5 L1465.0 441.5 L1460.0 441.0Z"/>
</svg>
<div id="lt" class="t">Relative pop. size</div>
<div class="sw" style="top:417.1px;background:#4D4D4D"></div>
<div class="ll" style="top:418.8px">excl.-severe</div>
<div class="sw" style="top:442.6px;background:#B3B3B3"></div>
<div class="ll" style="top:444.3px">excl.-moderate</div>
<div class="sw" style="top:468.0px;background:#1A72CE"></div>
<div class="ll" style="top:469.7px">0-10</div>
<div class="sw" style="top:493.5px;background:#4A919B"></div>
<div class="ll" style="top:495.2px">10-20</div>
<div class="sw" style="top:519.0px;background:#7DB16D"></div>
<div class="ll" style="top:520.7px">20-30</div>
<div class="sw" style="top:544.5px;background:#B0D043"></div>
<div class="ll" style="top:546.2px">30-40</div>
<div class="sw" style="top:569.9px;background:#E6EE1C"></div>
<div class="ll" style="top:571.6px">40-50</div>
<div class="sw" style="top:595.4px;background:#F9E200"></div>
<div class="ll" style="top:597.1px">50-60</div>
<div class="sw" style="top:620.9px;background:#EFA806"></div>
<div class="ll" style="top:622.6px">60-70</div>
<div class="sw" style="top:646.3px;background:#E57203"></div>
<div class="ll" style="top:648.0px">70-80</div>
<div class="sw" style="top:671.8px;background:#DC3902"></div>
<div class="ll" style="top:673.5px">80-90</div>
<div class="sw" style="top:697.3px;background:#CC0000"></div>
<div class="ll" style="top:699.0px">90-100</div>
</body></html>
